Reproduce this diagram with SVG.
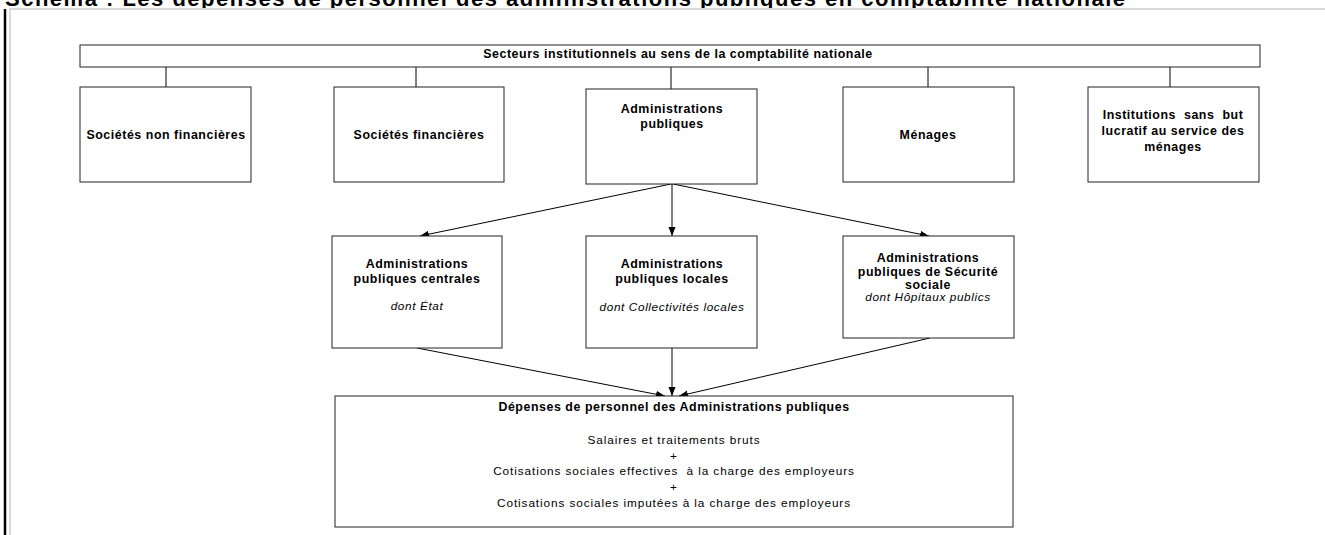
<svg xmlns="http://www.w3.org/2000/svg" width="1325" height="535" viewBox="0 0 1325 535">
<defs>
<style>
.box{fill:#fff;stroke:#222;stroke-width:1}
.b{font-family:"Liberation Sans",Arial,sans-serif;font-weight:bold;font-size:12.4px;letter-spacing:0.55px;fill:#000;text-anchor:middle}
.r{font-family:"Liberation Sans",Arial,sans-serif;font-size:11.8px;letter-spacing:0.9px;fill:#000;text-anchor:middle}
.i{font-family:"Liberation Sans",Arial,sans-serif;font-style:italic;font-size:11.8px;letter-spacing:0.6px;fill:#000;text-anchor:middle}
.ln{stroke:#000;stroke-width:1;fill:none}
.ar{stroke:#000;stroke-width:1;fill:none;marker-end:url(#arr)}
</style>
<marker id="arr" markerUnits="userSpaceOnUse" markerWidth="10" markerHeight="8" refX="9" refY="3.5" orient="auto">
<path d="M0,0 L9,3.5 L0,7 z" fill="#000"/>
</marker>
</defs>
<rect x="0" y="0" width="1325" height="535" fill="#fff"/>
<text x="5" y="6" font-family="Liberation Sans,Arial,sans-serif" font-weight="bold" font-size="22" textLength="1120">Schéma : Les dépenses de personnel des administrations publiques en comptabilité nationale</text>
<g id="frame">
<rect x="10" y="9" width="1320" height="530" fill="#fff" stroke="#d9d9d9" stroke-width="2"/>
<line x1="5" y1="9" x2="5" y2="535" stroke="#000" stroke-width="2.5"/>
</g>
<g id="connectors">
<line class="ln" x1="166" y1="67" x2="166" y2="87"/>
<line class="ln" x1="416" y1="67" x2="416" y2="87"/>
<line class="ln" x1="671" y1="67" x2="671" y2="89"/>
<line class="ln" x1="928" y1="67" x2="928" y2="87"/>
<line class="ln" x1="1170" y1="67" x2="1170" y2="87"/>
<line class="ar" x1="671" y1="184" x2="420" y2="236"/>
<line class="ar" x1="672" y1="184" x2="672" y2="236"/>
<line class="ar" x1="673" y1="184" x2="929" y2="236"/>
<line class="ar" x1="417" y1="348" x2="665" y2="396"/>
<line class="ar" x1="672" y1="348" x2="672" y2="396"/>
<line class="ar" x1="930" y1="338" x2="679" y2="396"/>
</g>
<g id="secteurs">
<rect class="box" x="80" y="45" width="1180" height="22"/>
<text class="b" x="678" y="58">Secteurs institutionnels au sens de la comptabilité nationale</text>
</g>
<g id="snf">
<rect class="box" x="80" y="87" width="171" height="95"/>
<text class="b" x="166" y="139">Sociétés non financières</text>
</g>
<g id="sf">
<rect class="box" x="334" y="87" width="170" height="95"/>
<text class="b" x="419" y="139">Sociétés financières</text>
</g>
<g id="apu">
<rect class="box" x="586" y="89" width="171" height="95"/>
<text class="b" x="672" y="113">Administrations</text>
<text class="b" x="672" y="128">publiques</text>
</g>
<g id="menages">
<rect class="box" x="843" y="87" width="171" height="95"/>
<text class="b" x="928" y="139">Ménages</text>
</g>
<g id="isblsm">
<rect class="box" x="1088" y="87" width="171" height="95"/>
<text class="b" x="1173" y="119" style="white-space:pre">Institutions  sans  but</text>
<text class="b" x="1173" y="135">lucratif au service des</text>
<text class="b" x="1173" y="151">ménages</text>
</g>
<g id="apuc">
<rect class="box" x="332" y="236" width="170" height="112"/>
<text class="b" x="417" y="268">Administrations</text>
<text class="b" x="417" y="283">publiques centrales</text>
<text class="i" x="417" y="310">dont État</text>
</g>
<g id="apul">
<rect class="box" x="586" y="236" width="171" height="112"/>
<text class="b" x="672" y="268">Administrations</text>
<text class="b" x="672" y="283">publiques locales</text>
<text class="i" x="672" y="311">dont Collectivités locales</text>
</g>
<g id="asso">
<rect class="box" x="843" y="236" width="171" height="102"/>
<text class="b" x="928" y="262">Administrations</text>
<text class="b" x="928" y="276">publiques de Sécurité</text>
<text class="b" x="928" y="289">sociale</text>
<text class="i" x="928" y="301">dont Hôpitaux publics</text>
</g>
<g id="depenses">
<rect class="box" x="335" y="396" width="678" height="131"/>
<text class="b" x="674" y="411">Dépenses de personnel des Administrations publiques</text>
<text class="r" x="674" y="444">Salaires et traitements bruts</text>
<text class="r" x="674" y="460">+</text>
<text class="r" x="674" y="475" style="white-space:pre">Cotisations sociales effectives  à la charge des employeurs</text>
<text class="r" x="674" y="491">+</text>
<text class="r" x="674" y="507">Cotisations sociales imputées à la charge des employeurs</text>
</g>
</svg>
